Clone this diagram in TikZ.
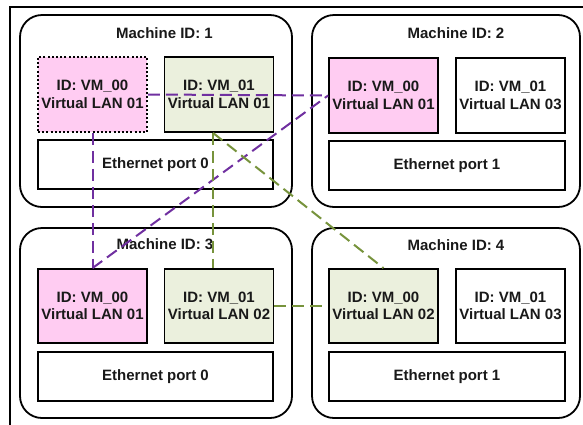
\documentclass[tikz,border=0pt]{standalone}
\usepackage{fontspec}
\setmainfont{Liberation Sans}
\definecolor{vmpink}{HTML}{FFCCF2}
\definecolor{vmgreen}{HTML}{EBF0DD}
\definecolor{lpurple}{HTML}{7030A0}
\definecolor{lgreen}{HTML}{77933C}
\begin{document}
\begin{tikzpicture}[x=1pt,y=-1pt,
  every node/.style={font=\fontsize{15}{17.5}\selectfont\bfseries, text=black!90},
  machine/.style={draw, line width=1.8pt, rounded corners=22pt, inner sep=0pt},
  vmbox/.style={draw, line width=1.8pt, minimum width=109pt, minimum height=75pt, inner sep=0pt, align=center},
  ethbox/.style={draw, line width=1.8pt, minimum width=235pt, minimum height=49pt, inner sep=0pt},
  pinkbox/.style={vmbox, fill=vmpink},
  greenbox/.style={vmbox, fill=vmgreen},
  whitebox/.style={vmbox, fill=white},
  dottedbox/.style={pinkbox, dash pattern=on 2pt off 2.2pt},
  titletext/.style={inner sep=0pt},
  plink/.style={draw=lpurple, line width=2pt, dash pattern=on 12pt off 6pt},
  glink/.style={draw=lgreen, line width=2pt, dash pattern=on 12pt off 6pt}
]
\useasboundingbox (0,0) rectangle (583,424);
\fill[white] (0,0) rectangle (583,424);
\begin{scope}
\clip (0,0) rectangle (583,424);
\draw[line width=1.8pt] (10,7) rectangle (600,440);
\end{scope}
% machines
\node[machine, minimum width=272pt, minimum height=192pt] (m1) at (156,111) {};
\node[machine, minimum width=268pt, minimum height=192pt] (m2) at (446,111) {};
\node[machine, minimum width=272pt, minimum height=190pt] (m3) at (156,323) {};
\node[machine, minimum width=268pt, minimum height=190pt] (m4) at (446,323) {};
% titles
\node[titletext] (t1) at (164.5,33) {Machine ID: 1};
\node[titletext] (t2) at (456,33) {Machine ID: 2};
\node[titletext] (t3) at (165,244) {Machine ID: 3};
\node[titletext] (t4) at (456,245) {Machine ID: 4};
% VMs
\node[dottedbox] (m1vm0) at (92.5,94.5) {ID: VM\_00\\Virtual LAN 01};
\node[greenbox] (m1vm1) at (219,94.5) {ID: VM\_01\\Virtual LAN 01};
\node[pinkbox] (m2vm0) at (383.5,95.5) {ID: VM\_00\\Virtual LAN 01};
\node[whitebox] (m2vm1) at (510.5,95.5) {ID: VM\_01\\Virtual LAN 03};
\node[pinkbox, minimum height=74pt] (m3vm0) at (92.5,306) {ID: VM\_00\\Virtual LAN 01};
\node[greenbox, minimum height=74pt] (m3vm1) at (219,306) {ID: VM\_01\\Virtual LAN 02};
\node[greenbox, minimum height=74pt] (m4vm0) at (383.5,306) {ID: VM\_00\\Virtual LAN 02};
\node[whitebox, minimum height=74pt] (m4vm1) at (510.5,306) {ID: VM\_01\\Virtual LAN 03};
% ethernet
\node[ethbox] (e1) at (155.5,164.5) {Ethernet port 0};
\node[ethbox, minimum width=236pt] (e2) at (447,165.5) {Ethernet port 1};
\node[ethbox] (e3) at (155.5,376.5) {Ethernet port 0};
\node[ethbox, minimum width=236pt] (e4) at (447,376.5) {Ethernet port 1};
% links
\draw[plink] (m1vm0.east) -- (m2vm0.west);
\draw[plink] (m1vm0.south) -- (m3vm0.north);
\draw[plink] (m3vm0.north) -- (m2vm0.west);
\draw[glink] ([xshift=-6pt]m1vm1.south) -- ([xshift=-6pt]m3vm1.north);
\draw[glink] ([xshift=-6pt]m1vm1.south) -- (m4vm0.north);
\draw[glink] (m3vm1.east) -- (m4vm0.west);
\end{tikzpicture}
\end{document}
